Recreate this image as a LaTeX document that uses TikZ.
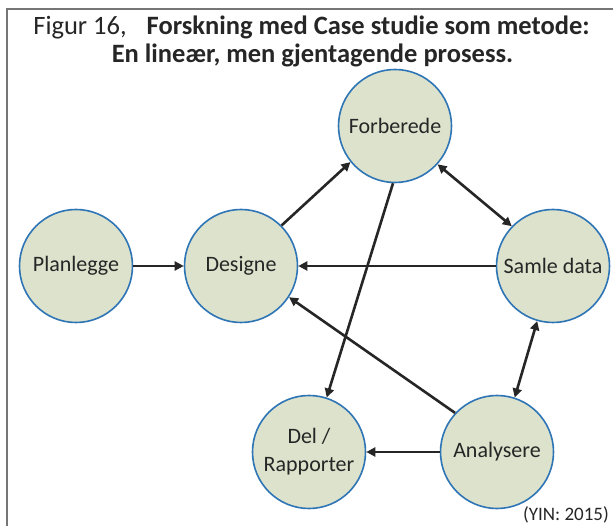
\documentclass[tikz,border=0pt]{standalone}
\usepackage{fontspec}
\setmainfont{Carlito}
\usetikzlibrary{arrows.meta}
\definecolor{stepfill}{RGB}{221,226,204}
\definecolor{stepedge}{RGB}{46,117,182}
\definecolor{inkgray}{RGB}{38,38,38}
\definecolor{framegray}{RGB}{118,118,118}
\begin{document}
\begin{tikzpicture}[x=1pt,y=-1pt,
  stepnode/.style={circle, minimum size=113pt, inner sep=0pt, draw=stepedge, fill=stepfill,
    line width=1.6pt, text=inkgray, align=center, font=\fontsize{22}{28}\selectfont},
  link/.style={line width=2.6pt, draw=inkgray, -{Triangle[length=9pt,width=9pt]}},
  duallink/.style={link, {Triangle[length=9pt,width=9pt]}-{Triangle[length=9pt,width=9pt]}},
  titletext/.style={text=inkgray, inner sep=0pt, anchor=base, font=\fontsize{26.5}{30}\selectfont}]
\useasboundingbox (0,0) rectangle (613,526);
\fill[white] (0,0) rectangle (613,526);
% frame
\draw[framegray, line width=2pt] (7,526) -- (7,9) -- (613,9);

% heading
\node[titletext] (t1) at (311.5,35) {Figur 16,\hspace{20pt}\textbf{Forskning med Case studie som metode:}};
\node[titletext] (t2) at (312.5,63) {\textbf{En lineær, men gjentagende prosess.}};

% steps
\node[stepnode] (pl) at (76,266) {Planlegge};
\node[stepnode] (des) at (241,266) {Designe};
\node[stepnode] (forb) at (395,126) {Forberede};
\node[stepnode] (samle) at (553,266) {Samle data};
\node[stepnode] (del) at (309,452) {Del /\\Rapporter};
\node[stepnode] (ana) at (497,452) {Analysere};

% connectors
\draw[link] (pl.east) -- (des.west);
\draw[link] (des.45) -- (forb.219);
\draw[duallink] (forb.-42) -- (samle.136);
\draw[link] (samle.west) -- (des.east);
\draw[duallink] (samle.-106) -- (ana.72);
\draw[link] (ana.137) -- (des.-33);
\draw[link] (forb.-92) -- (del.72);
\draw[link] (ana.west) -- (del.east);

% source
\node[text=inkgray, inner sep=0pt, anchor=base east, font=\fontsize{19}{22}\selectfont] (src) at (609,520) {(YIN: 2015)};
\end{tikzpicture}
\end{document}
